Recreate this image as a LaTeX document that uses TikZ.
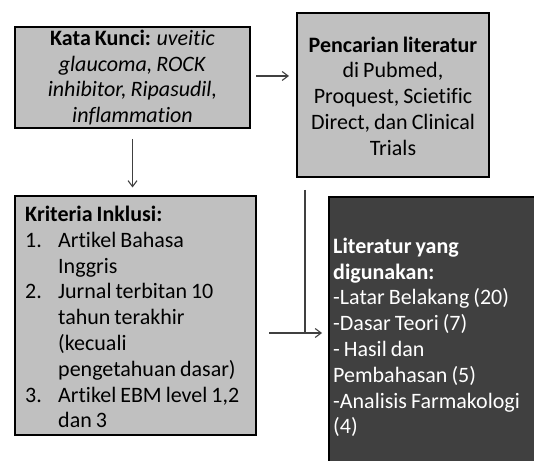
\documentclass[tikz,border=0pt]{standalone}
\usepackage{fontspec}
\setmainfont[Ligatures={NoCommon}, WordSpace=0.8]{Carlito}
\usetikzlibrary{arrows.meta}
\definecolor{boxgray}{HTML}{C0C0C0}
\definecolor{darkbox}{HTML}{404040}
\definecolor{arrowgray}{HTML}{404040}
\newcommand{\txtfont}{\fontsize{22bp}{25.8bp}\selectfont}
\tikzset{
  box/.style={draw=black, line width=2bp, fill=boxgray, inner sep=0pt},
  darkbx/.style={draw=black, line width=2bp, fill=darkbox, inner sep=0pt},
  txt/.style={inner sep=0pt, font=\txtfont},
  conn/.style={draw=arrowgray, line width=1.1bp},
  arr/.style={conn, -{Straight Barb[length=6bp,width=9bp,line width=1.1bp]}}
}
\newcommand{\itm}[1]{\makebox[33bp][l]{#1}}
\newcommand{\cnt}{\hspace*{33bp}}
\begin{document}
\begin{tikzpicture}[x=1bp,y=-1bp]
\useasboundingbox (0,0) rectangle (534,461);
% boxes
\node[box, minimum width=235bp, minimum height=101bp] (b1) at (132.5,77.5) {};
\node[box, minimum width=192bp, minimum height=164bp] (b2) at (393,95) {};
\node[box, minimum width=241bp, minimum height=238bp] (b3) at (135.5,315.5) {};
\node[darkbx, minimum width=230bp, minimum height=290bp] (b4) at (444,342) {};
% texts
\node[txt, align=center] (t1) at (b1.center) {\textbf{Kata Kunci:} \textit{uveitic}\\\textit{glaucoma, ROCK}\\\textit{inhibitor, Ripasudil,}\\\textit{inflammation}};
\node[txt, align=center] (t2) at (393,96) {\textbf{Pencarian literatur}\\di Pubmed,\\Proquest, Scietific\\Direct, dan Clinical\\Trials};
\node[txt, align=left, anchor=west] (t3) at (25,317) {\textbf{Kriteria Inklusi:}\\\itm{1.}Artikel Bahasa\\\cnt Inggris\\\itm{2.}Jurnal terbitan 10\\\cnt tahun terakhir\\\cnt (kecuali\\\cnt pengetahuan dasar)\\\itm{3.}Artikel EBM level 1,2\\\cnt dan 3};
\node[txt, align=left, anchor=west, text=white] (t4) at (333,337.5) {\textbf{Literatur yang}\\\textbf{digunakan:}\\-Latar Belakang (20)\\-Dasar Teori (7)\\- Hasil dan\\Pembahasan (5)\\-Analisis Farmakologi\\(4)};
% connectors
\coordinate (vtop) at (305,190);
\coordinate (hleft) at (269,333);
\coordinate (hjoin) at (305,333);
\draw[arr, shorten <=5bp, shorten >=7bp] (b1.east |- 0,76) -- (b2.west |- 0,76);
\draw[arr, shorten <=10bp, shorten >=8bp] (b1.south) -- (b1.south |- b3.north);
\draw[conn] (vtop) -- (hjoin);
\draw[arr, shorten >=6bp] (hleft) -- (hleft -| b4.west);
\end{tikzpicture}
\end{document}
